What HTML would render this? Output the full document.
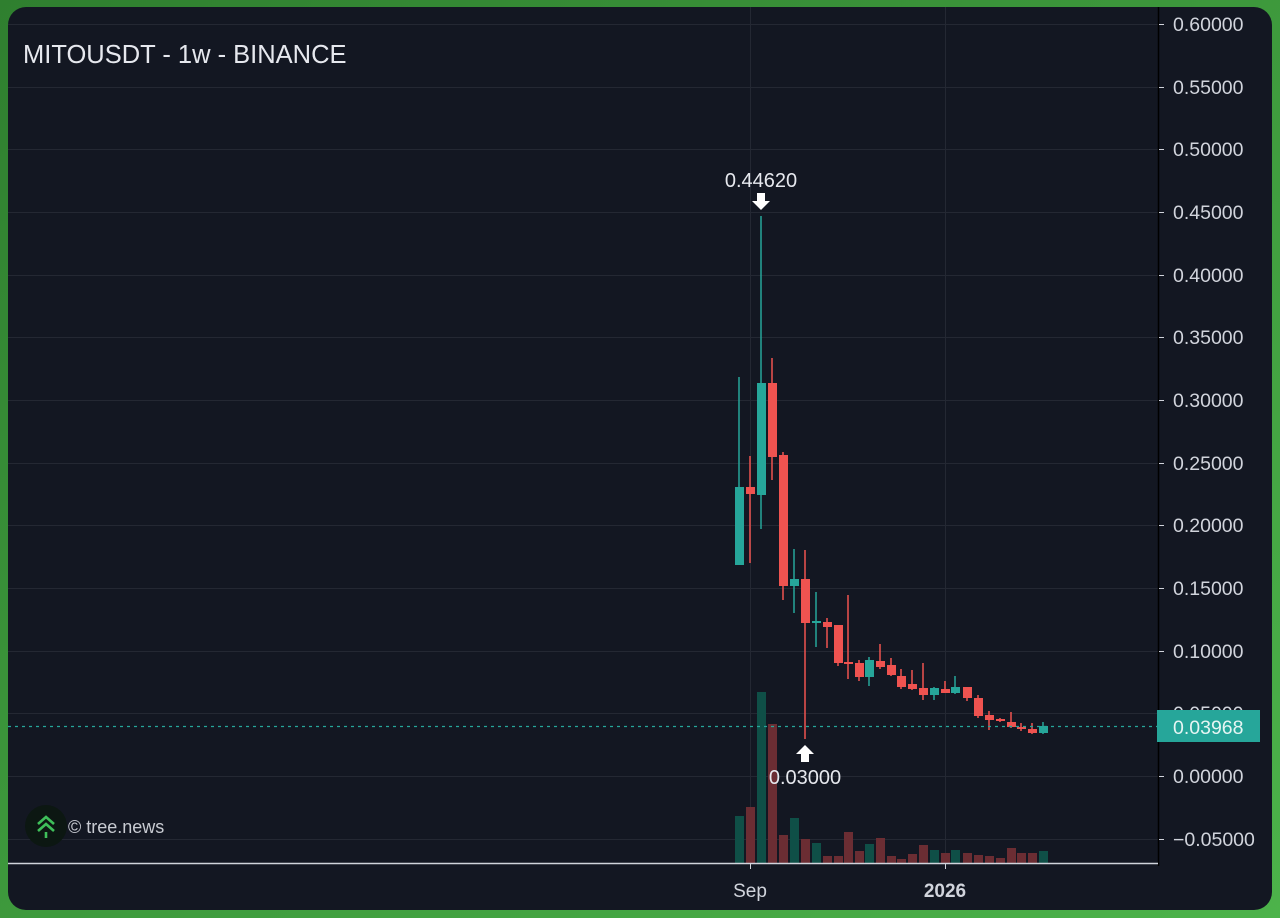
<!DOCTYPE html>
<html><head><meta charset="utf-8"><style>
html,body{margin:0;padding:0;width:1280px;height:918px;overflow:hidden;background:#3f9a3c;}
svg{display:block}
text{font-family:"Liberation Sans",sans-serif;}
</style></head><body>
<svg width="1280" height="918" viewBox="0 0 1280 918" xmlns="http://www.w3.org/2000/svg">
<defs><linearGradient id="bg" x1="0" y1="0" x2="1" y2="1"><stop offset="0" stop-color="#2f7f2f"/><stop offset="1" stop-color="#4cb34a"/></linearGradient></defs>
<rect width="1280" height="918" fill="url(#bg)"/>
<rect x="8" y="7" width="1264" height="903" rx="18" fill="#131722"/>
<g stroke="#242833" stroke-width="1">
<line x1="8" y1="24.5" x2="1158" y2="24.5"/><line x1="8" y1="87.5" x2="1158" y2="87.5"/><line x1="8" y1="149.5" x2="1158" y2="149.5"/><line x1="8" y1="212.5" x2="1158" y2="212.5"/><line x1="8" y1="275.5" x2="1158" y2="275.5"/><line x1="8" y1="337.5" x2="1158" y2="337.5"/><line x1="8" y1="400.5" x2="1158" y2="400.5"/><line x1="8" y1="463.5" x2="1158" y2="463.5"/><line x1="8" y1="525.5" x2="1158" y2="525.5"/><line x1="8" y1="588.5" x2="1158" y2="588.5"/><line x1="8" y1="651.5" x2="1158" y2="651.5"/><line x1="8" y1="713.5" x2="1158" y2="713.5"/><line x1="8" y1="776.5" x2="1158" y2="776.5"/><line x1="8" y1="839.5" x2="1158" y2="839.5"/>
<line x1="750.5" y1="7" x2="750.5" y2="863"/><line x1="945.5" y1="7" x2="945.5" y2="863"/>
</g>
<g>
<rect x="735" y="816" width="9" height="47" fill="#0f4f47"/>
<rect x="746" y="807" width="9" height="56" fill="#6b2d33"/>
<rect x="757" y="692" width="9" height="171" fill="#0f4f47"/>
<rect x="768" y="724" width="9" height="139" fill="#6b2d33"/>
<rect x="779" y="835" width="9" height="28" fill="#6b2d33"/>
<rect x="790" y="818" width="9" height="45" fill="#0f4f47"/>
<rect x="801" y="839" width="9" height="24" fill="#6b2d33"/>
<rect x="812" y="843" width="9" height="20" fill="#0f4f47"/>
<rect x="823" y="856" width="9" height="7" fill="#6b2d33"/>
<rect x="834" y="856" width="9" height="7" fill="#6b2d33"/>
<rect x="844" y="832" width="9" height="31" fill="#6b2d33"/>
<rect x="855" y="851" width="9" height="12" fill="#6b2d33"/>
<rect x="865" y="844" width="9" height="19" fill="#0f4f47"/>
<rect x="876" y="838" width="9" height="25" fill="#6b2d33"/>
<rect x="887" y="856" width="9" height="7" fill="#6b2d33"/>
<rect x="897" y="859" width="9" height="4" fill="#6b2d33"/>
<rect x="908" y="854" width="9" height="9" fill="#6b2d33"/>
<rect x="919" y="845" width="9" height="18" fill="#6b2d33"/>
<rect x="930" y="850" width="9" height="13" fill="#0f4f47"/>
<rect x="941" y="853" width="9" height="10" fill="#6b2d33"/>
<rect x="951" y="850" width="9" height="13" fill="#0f4f47"/>
<rect x="963" y="853" width="9" height="10" fill="#6b2d33"/>
<rect x="974" y="855" width="9" height="8" fill="#6b2d33"/>
<rect x="985" y="856" width="9" height="7" fill="#6b2d33"/>
<rect x="996" y="858" width="9" height="5" fill="#6b2d33"/>
<rect x="1007" y="848" width="9" height="15" fill="#6b2d33"/>
<rect x="1017" y="853" width="9" height="10" fill="#6b2d33"/>
<rect x="1028" y="853" width="9" height="10" fill="#6b2d33"/>
<rect x="1039" y="851" width="9" height="12" fill="#0f4f47"/>
</g>
<g stroke-width="1.5">
<g fill="#26a69a" stroke="#26a69a"><line x1="739" y1="377" x2="739" y2="565"/><rect x="735" y="487" width="9" height="78" stroke="none"/></g>
<g fill="#ef5350" stroke="#ef5350"><line x1="750" y1="456" x2="750" y2="563"/><rect x="746" y="487" width="9" height="7" stroke="none"/></g>
<g fill="#26a69a" stroke="#26a69a"><line x1="761" y1="216" x2="761" y2="529"/><rect x="757" y="383" width="9" height="112" stroke="none"/></g>
<g fill="#ef5350" stroke="#ef5350"><line x1="772" y1="358" x2="772" y2="480"/><rect x="768" y="383" width="9" height="74" stroke="none"/></g>
<g fill="#ef5350" stroke="#ef5350"><line x1="783" y1="452" x2="783" y2="600"/><rect x="779" y="455" width="9" height="131" stroke="none"/></g>
<g fill="#26a69a" stroke="#26a69a"><line x1="794" y1="549" x2="794" y2="613"/><rect x="790" y="579" width="9" height="7" stroke="none"/></g>
<g fill="#ef5350" stroke="#ef5350"><line x1="805" y1="550" x2="805" y2="739"/><rect x="801" y="579" width="9" height="44" stroke="none"/></g>
<g fill="#26a69a" stroke="#26a69a"><line x1="816" y1="592" x2="816" y2="647"/><rect x="812" y="621" width="9" height="2" stroke="none"/></g>
<g fill="#ef5350" stroke="#ef5350"><line x1="827" y1="618" x2="827" y2="648"/><rect x="823" y="622" width="9" height="5" stroke="none"/></g>
<g fill="#ef5350" stroke="#ef5350"><line x1="838" y1="625" x2="838" y2="666"/><rect x="834" y="625" width="9" height="38" stroke="none"/></g>
<g fill="#ef5350" stroke="#ef5350"><line x1="848" y1="595" x2="848" y2="679"/><rect x="844" y="662" width="9" height="2" stroke="none"/></g>
<g fill="#ef5350" stroke="#ef5350"><line x1="859" y1="660" x2="859" y2="681"/><rect x="855" y="663" width="9" height="14" stroke="none"/></g>
<g fill="#26a69a" stroke="#26a69a"><line x1="869" y1="657" x2="869" y2="686"/><rect x="865" y="660" width="9" height="17" stroke="none"/></g>
<g fill="#ef5350" stroke="#ef5350"><line x1="880" y1="644" x2="880" y2="669"/><rect x="876" y="661" width="9" height="6" stroke="none"/></g>
<g fill="#ef5350" stroke="#ef5350"><line x1="891" y1="658" x2="891" y2="676"/><rect x="887" y="665" width="9" height="10" stroke="none"/></g>
<g fill="#ef5350" stroke="#ef5350"><line x1="901" y1="669" x2="901" y2="689"/><rect x="897" y="676" width="9" height="11" stroke="none"/></g>
<g fill="#ef5350" stroke="#ef5350"><line x1="912" y1="670" x2="912" y2="690"/><rect x="908" y="684" width="9" height="5" stroke="none"/></g>
<g fill="#ef5350" stroke="#ef5350"><line x1="923" y1="663" x2="923" y2="700"/><rect x="919" y="688" width="9" height="7" stroke="none"/></g>
<g fill="#26a69a" stroke="#26a69a"><line x1="934" y1="687" x2="934" y2="700"/><rect x="930" y="688" width="9" height="7" stroke="none"/></g>
<g fill="#ef5350" stroke="#ef5350"><line x1="945" y1="681" x2="945" y2="693"/><rect x="941" y="689" width="9" height="4" stroke="none"/></g>
<g fill="#26a69a" stroke="#26a69a"><line x1="955" y1="676" x2="955" y2="694"/><rect x="951" y="687" width="9" height="6" stroke="none"/></g>
<g fill="#ef5350" stroke="#ef5350"><line x1="967" y1="687" x2="967" y2="701"/><rect x="963" y="687" width="9" height="11" stroke="none"/></g>
<g fill="#ef5350" stroke="#ef5350"><line x1="978" y1="695" x2="978" y2="718"/><rect x="974" y="698" width="9" height="18" stroke="none"/></g>
<g fill="#ef5350" stroke="#ef5350"><line x1="989" y1="711" x2="989" y2="730"/><rect x="985" y="715" width="9" height="5" stroke="none"/></g>
<g fill="#ef5350" stroke="#ef5350"><line x1="1000" y1="718" x2="1000" y2="722"/><rect x="996" y="719" width="9" height="2" stroke="none"/></g>
<g fill="#ef5350" stroke="#ef5350"><line x1="1011" y1="712" x2="1011" y2="728"/><rect x="1007" y="722" width="9" height="5" stroke="none"/></g>
<g fill="#ef5350" stroke="#ef5350"><line x1="1021" y1="723" x2="1021" y2="731"/><rect x="1017" y="727" width="9" height="2" stroke="none"/></g>
<g fill="#ef5350" stroke="#ef5350"><line x1="1032" y1="723" x2="1032" y2="734"/><rect x="1028" y="729" width="9" height="4" stroke="none"/></g>
<g fill="#26a69a" stroke="#26a69a"><line x1="1043" y1="722" x2="1043" y2="734"/><rect x="1039" y="726" width="9" height="7" stroke="none"/></g>
</g>
<line x1="8" y1="726.5" x2="1158" y2="726.5" stroke="#26a69a" stroke-width="1.2" stroke-dasharray="3,4"/>
<line x1="1158.5" y1="7" x2="1158.5" y2="866" stroke="#000" stroke-width="1.5"/>
<line x1="8" y1="863.5" x2="1158" y2="863.5" stroke="#d1d4dc" stroke-width="1.5"/>
<g stroke="#d1d4dc" stroke-width="1">
<line x1="1159" y1="24.5" x2="1164" y2="24.5"/><line x1="1159" y1="87.5" x2="1164" y2="87.5"/><line x1="1159" y1="149.5" x2="1164" y2="149.5"/><line x1="1159" y1="212.5" x2="1164" y2="212.5"/><line x1="1159" y1="275.5" x2="1164" y2="275.5"/><line x1="1159" y1="337.5" x2="1164" y2="337.5"/><line x1="1159" y1="400.5" x2="1164" y2="400.5"/><line x1="1159" y1="463.5" x2="1164" y2="463.5"/><line x1="1159" y1="525.5" x2="1164" y2="525.5"/><line x1="1159" y1="588.5" x2="1164" y2="588.5"/><line x1="1159" y1="651.5" x2="1164" y2="651.5"/><line x1="1159" y1="713.5" x2="1164" y2="713.5"/><line x1="1159" y1="776.5" x2="1164" y2="776.5"/><line x1="1159" y1="839.5" x2="1164" y2="839.5"/>
<line x1="750.5" y1="864" x2="750.5" y2="869"/><line x1="945.5" y1="864" x2="945.5" y2="869"/>
</g>
<g fill="#d1d4dc" font-size="19.5">
<text x="1173" y="31">0.60000</text><text x="1173" y="94">0.55000</text><text x="1173" y="156">0.50000</text><text x="1173" y="219">0.45000</text><text x="1173" y="282">0.40000</text><text x="1173" y="344">0.35000</text><text x="1173" y="407">0.30000</text><text x="1173" y="470">0.25000</text><text x="1173" y="532">0.20000</text><text x="1173" y="595">0.15000</text><text x="1173" y="658">0.10000</text><text x="1173" y="720">0.05000</text><text x="1173" y="783">0.00000</text><text x="1173" y="846">−0.05000</text>
</g>
<rect x="1157" y="710" width="103" height="32" fill="#26a69a"/>
<text x="1173" y="734" fill="#e6f5f3" font-size="19.5">0.03968</text>
<text x="750" y="897" fill="#d1d4dc" font-size="19" text-anchor="middle">Sep</text>
<text x="945" y="897" fill="#d1d4dc" font-size="19" font-weight="bold" text-anchor="middle">2026</text>
<text x="23" y="63" fill="#e6e8ee" font-size="25.5">MITOUSDT - 1w - BINANCE</text>
<text x="761" y="187" fill="#e6e8ee" font-size="20" text-anchor="middle">0.44620</text>
<path d="M757 193h8v8h5l-9 9-9-9h5z" fill="#fff"/>
<path d="M801 762h8v-8h5l-9-9-9 9h5z" fill="#fff"/>
<text x="805" y="784" fill="#e6e8ee" font-size="20" text-anchor="middle">0.03000</text>
<circle cx="46" cy="826" r="21" fill="#0c1712"/>
<path d="M38 824l8-7 8 7M38 831l8-7 8 7" stroke="#3fbf5a" stroke-width="2.6" fill="none"/>
<line x1="46" y1="832" x2="46" y2="838" stroke="#3fbf5a" stroke-width="2.6"/>
<text x="68" y="833" fill="#c8cbd2" font-size="18">© tree.news</text>
</svg>
</body></html>
